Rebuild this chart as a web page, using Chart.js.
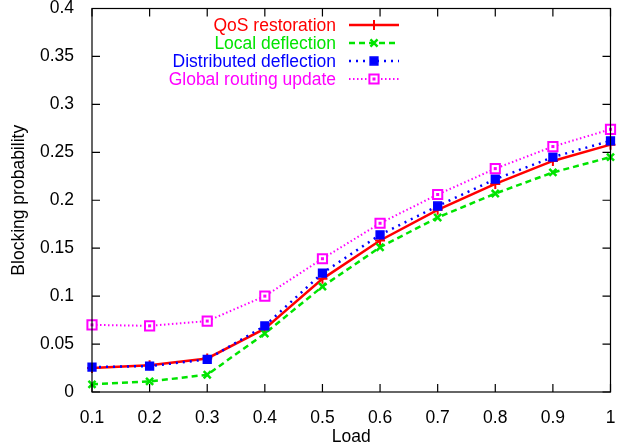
<!DOCTYPE html>
<html>
<head>
<meta charset="utf-8">
<script src="https://cdn.jsdelivr.net/npm/chart.js@4/dist/chart.umd.min.js"></script>
<style>
  html, body { margin: 0; padding: 0; background: #fff; }
  #wrap { width: 619px; height: 448px; }
</style>
</head>
<body>
<div id="wrap"><canvas id="chart"></canvas></div>
<script>
// ── Blocking probability vs load ─────────────────────────────────────────────
const loads       = [0.1, 0.2, 0.3, 0.4, 0.5, 0.6, 0.7, 0.8, 0.9, 1.0];
const qosRestore  = [0.025, 0.028, 0.035, 0.066, 0.118, 0.158, 0.190, 0.217, 0.241, 0.258];
const localDefl   = [0.008, 0.011, 0.018, 0.061, 0.110, 0.151, 0.182, 0.207, 0.229, 0.245];
const distribDefl = [0.026, 0.027, 0.034, 0.069, 0.124, 0.164, 0.194, 0.222, 0.245, 0.262];
const globalUpd   = [0.070, 0.069, 0.074, 0.100, 0.139, 0.176, 0.206, 0.233, 0.256, 0.274];
const seriesNames = ['QoS restoration', 'Local deflection', 'Distributed deflection', 'Global routing update'];
const xTicks = [0.1, 0.2, 0.3, 0.4, 0.5, 0.6, 0.7, 0.8, 0.9, 1];
const yTicks = [0, 0.05, 0.1, 0.15, 0.2, 0.25, 0.3, 0.35, 0.4];

const FONT = 'Liberation Sans, Arial, Helvetica, sans-serif';
const FS = 17.5;
const pts = ys => loads.map((x, i) => ({ x, y: ys[i] }));
const fmt = v => String(+Number(v).toFixed(2));

// gnuplot-ish frame: box plus inward ticks mirrored on all four sides
const framePlugin = {
  id: 'frame',
  afterDraw(chart) {
    const { ctx, chartArea: a, scales: { x, y } } = chart;
    const tl = 8;
    ctx.save();
    ctx.strokeStyle = '#000';
    ctx.lineWidth = 1.2;
    ctx.beginPath();
    xTicks.forEach(v => {
      const px = x.getPixelForValue(v);
      ctx.moveTo(px, a.bottom); ctx.lineTo(px, a.bottom - tl);
      ctx.moveTo(px, a.top);    ctx.lineTo(px, a.top + tl);
    });
    yTicks.forEach(v => {
      const py = y.getPixelForValue(v);
      ctx.moveTo(a.left, py);  ctx.lineTo(a.left + tl, py);
      ctx.moveTo(a.right, py); ctx.lineTo(a.right - tl, py);
    });
    ctx.stroke();
    ctx.strokeRect(a.left, a.top, a.right - a.left, a.bottom - a.top);
    ctx.restore();
  }
};

// small dot inside the magenta squares
const dotPlugin = {
  id: 'dots',
  afterDatasetsDraw(chart) {
    const ctx = chart.ctx;
    chart.data.datasets.forEach((ds, i) => {
      if (!ds.innerDot) return;
      ctx.save();
      ctx.fillStyle = ds.borderColor;
      chart.getDatasetMeta(i).data.forEach(p => ctx.fillRect(p.x - 1.5, p.y - 1.5, 3, 3));
      ctx.restore();
    });
  }
};

// key in gnuplot style: right-aligned coloured text, then a line sample
const keyPlugin = {
  id: 'key',
  afterDraw(chart) {
    const ctx = chart.ctx;
    const textRight = 336, x0 = 349, x1 = 399, top = 25, step = 18;
    chart.data.datasets.forEach((ds, i) => {
      const yy = top + i * step;
      ctx.save();
      ctx.font = `${FS}px ${FONT}`;
      ctx.fillStyle = ds.borderColor;
      ctx.textAlign = 'right';
      ctx.textBaseline = 'middle';
      ctx.fillText(ds.label, textRight, yy + 1);
      ctx.strokeStyle = ds.borderColor;
      ctx.lineWidth = ds.borderWidth;
      ctx.setLineDash(ds.borderDash || []);
      ctx.beginPath(); ctx.moveTo(x0, yy); ctx.lineTo(x1, yy); ctx.stroke();
      ctx.setLineDash([]);
      ctx.lineWidth = ds.pointBorderWidth;
      ctx.fillStyle = ds.pointBackgroundColor;
      Chart.helpers.drawPoint(ctx, { pointStyle: ds.pointStyle, radius: ds.pointRadius, rotation: 0, borderWidth: ds.pointBorderWidth }, (x0 + x1) / 2, yy);
      if (ds.innerDot) { ctx.fillStyle = ds.borderColor; ctx.fillRect((x0 + x1) / 2 - 1.5, yy - 1.5, 3, 3); }
      ctx.restore();
    });
  }
};

new Chart(document.getElementById('chart'), {
  type: 'line',
  data: {
    datasets: [
      { label: seriesNames[0], data: pts(qosRestore), borderColor: '#ff0000', borderWidth: 2.5,
        pointStyle: 'cross', pointRadius: 5, pointBorderWidth: 2, pointBackgroundColor: '#ff0000', order: 4 },
      { label: seriesNames[1], data: pts(localDefl), borderColor: '#00e400', borderWidth: 2.5, borderDash: [6, 4],
        pointStyle: 'crossRot', pointRadius: 5, pointBorderWidth: 2.5, pointBackgroundColor: '#00e400', order: 3 },
      { label: seriesNames[2], data: pts(distribDefl), borderColor: '#0000ff', borderWidth: 2.5, borderDash: [2, 5],
        pointStyle: 'rect', pointRadius: 5.5, pointBorderWidth: 1.5, pointBackgroundColor: '#0000ff', order: 2 },
      { label: seriesNames[3], data: pts(globalUpd), borderColor: '#ff00ff', borderWidth: 2, borderDash: [1.5, 2.5],
        pointStyle: 'rect', pointRadius: 6.5, pointBorderWidth: 2, pointBackgroundColor: '#ffffff', order: 1, innerDot: true }
    ]
  },
  options: {
    responsive: true,
    maintainAspectRatio: false,
    animation: false,
    clip: false,
    layout: { padding: { top: 8, right: 5, left: 0, bottom: 0 } },
    plugins: { legend: { display: false }, tooltip: { enabled: false } },
    elements: { line: { tension: 0, fill: false }, point: { hoverRadius: 6 } },
    scales: {
      x: {
        type: 'linear', min: 0.1, max: 1,
        afterBuildTicks: s => { s.ticks = xTicks.map(v => ({ value: v })); },
        afterFit: s => { s.height = 56; s.paddingLeft = 0; s.paddingRight = 0; },
        grid: { display: false }, border: { display: false },
        ticks: { color: '#000', font: { family: FONT, size: FS }, padding: 8, maxRotation: 0, autoSkip: false, callback: fmt },
        title: { display: true, text: 'Load', color: '#000', font: { family: FONT, size: FS }, padding: { top: 0, bottom: 0 } }
      },
      y: {
        type: 'linear', min: 0, max: 0.4,
        afterBuildTicks: s => { s.ticks = yTicks.map(v => ({ value: v })); },
        afterFit: s => { s.width = 92; s.paddingTop = 0; s.paddingBottom = 0; },
        grid: { display: false }, border: { display: false },
        ticks: { color: '#000', font: { family: FONT, size: FS }, padding: 10, autoSkip: false, callback: fmt },
        title: { display: true, text: 'Blocking probability', color: '#000', font: { family: FONT, size: FS }, padding: { top: 9, bottom: 0 } }
      }
    }
  },
  plugins: [framePlugin, dotPlugin, keyPlugin]
});
</script>
</body>
</html>
